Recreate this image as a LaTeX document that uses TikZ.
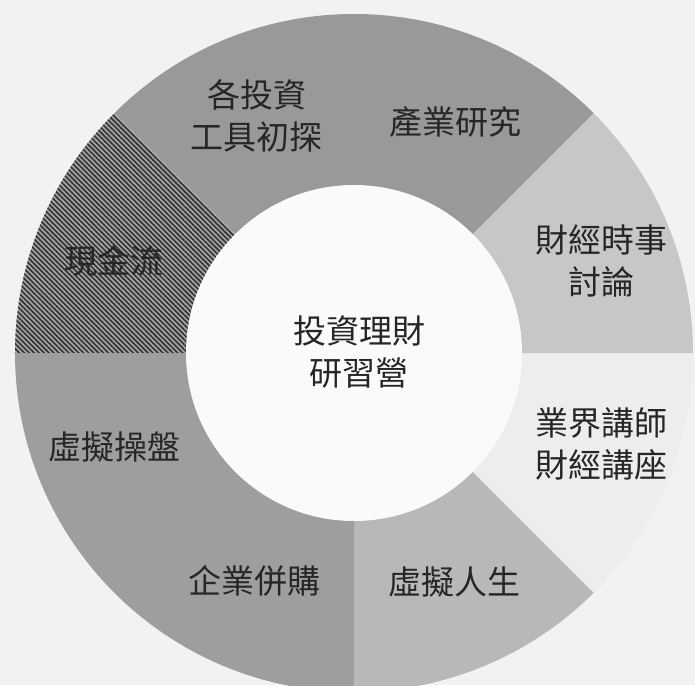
\documentclass[tikz,border=0pt]{standalone}
\usepackage{fontspec}
\newfontfamily\cjk{Noto Sans CJK TC}
\usepackage{tikz}
\usetikzlibrary{patterns.meta}

\begin{document}
\begin{tikzpicture}[x=1pt, y=1pt,
		label/.style={font=\cjk\fontsize{33}{42}\selectfont, text=black!85, align=center, inner sep=0pt},
		ring/.style={draw=none}]
		\useasboundingbox[fill=black!5] (-354,-332) rectangle (341,353);
		% sectors of the ring
		\fill [ring, black!40] (0,0) -- (45:339) arc[start angle=45, end angle=135, radius=339] -- cycle;
		\fill [ring, black!35] (0,0) -- (135:339) arc[start angle=135, end angle=180, radius=339] -- cycle;
		\fill [ring, pattern={Lines[angle=-45, distance=3.5pt, line width=1.6pt]}, pattern color=black!80] (0,0) -- (135:339) arc[start angle=135, end angle=180, radius=339] -- cycle;
		\fill [ring, black!38] (0,0) -- (180:339) arc[start angle=180, end angle=270, radius=339] -- cycle;
		\fill [ring, black!28] (0,0) -- (270:339) arc[start angle=270, end angle=315, radius=339] -- cycle;
		\fill [ring, black!7] (0,0) -- (315:339) arc[start angle=315, end angle=360, radius=339] -- cycle;
		\fill [ring, black!22] (0,0) -- (0:339) arc[start angle=0, end angle=45, radius=339] -- cycle;
		\fill [black!2] (0,0) circle[radius=168];

		\node [label] (hub) at (5,1) {投資理財\\研習營};
		\node [label] (tools) at (-97,237) {各投資\\工具初探};
		\node [label] (industry) at (101,231) {產業研究};
		\node [label] (news) at (247,92) {財經時事\\討論};
		\node [label] (lecture) at (247,-91) {業界講師\\財經講座};
		\node [label] (life) at (100,-229) {虛擬人生};
		\node [label] (merger) at (-99,-228) {企業併購};
		\node [label] (trading) at (-239,-94) {虛擬操盤};
		\node [label] (cash) at (-240,92) {現金流};
	\end{tikzpicture}
\end{document}
